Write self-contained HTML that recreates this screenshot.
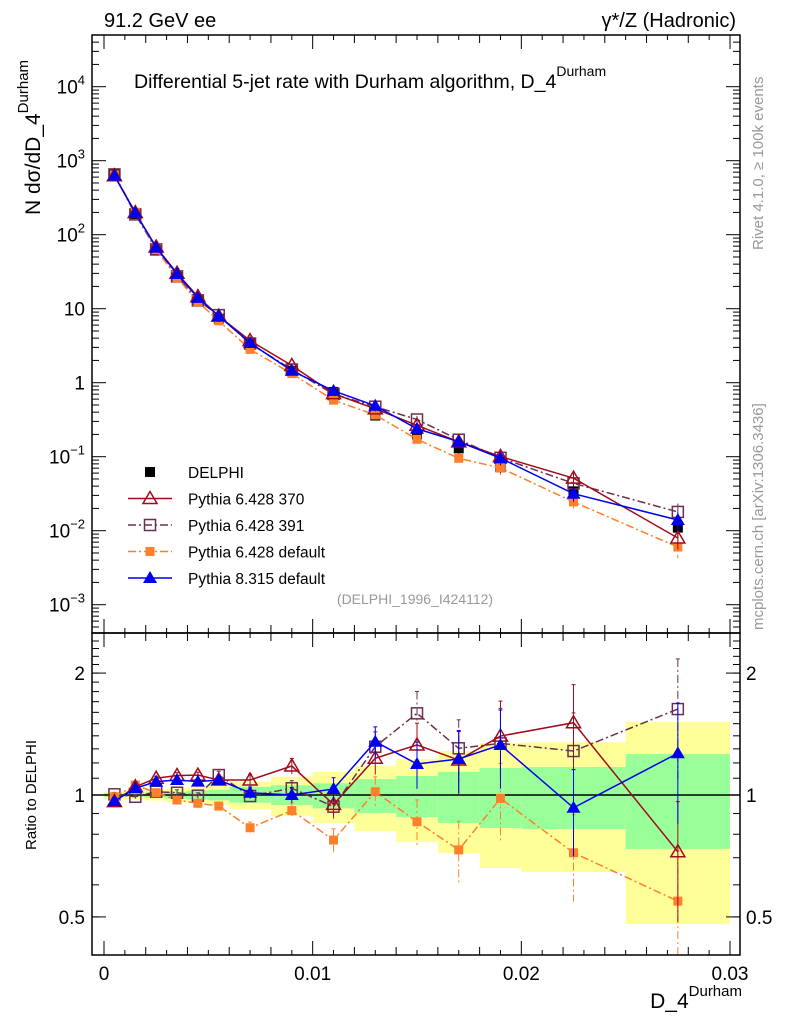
<!DOCTYPE html>
<html><head><meta charset="utf-8"><style>
body{margin:0;background:#fff}
svg{display:block;font-family:"Liberation Sans",sans-serif}
</style></head><body>
<svg id="c" width="786" height="1024" viewBox="0 0 786 1024">
<text x="104" y="27" font-size="20">91.2 GeV ee</text>
<text x="736" y="27" font-size="20" text-anchor="end">γ*/Z (Hadronic)</text>
<text x="134" y="88" font-size="19.5">Differential 5-jet rate with Durham algorithm, D_4<tspan dy="-12" font-size="14">Durham</tspan></text>
<text transform="translate(40,215) rotate(-90)" font-size="21">N  dσ/dD_4<tspan dy="-12" font-size="15">Durham</tspan></text>
<text transform="translate(763,250) rotate(-90)" font-size="15" fill="#999">Rivet 4.1.0, ≥ 100k events</text>
<text transform="translate(763,630) rotate(-90)" font-size="15" fill="#999">mcplots.cern.ch [arXiv:1306.3436]</text>
<text x="415" y="604" font-size="14" fill="#999" text-anchor="middle">(DELPHI_1996_I424112)</text>
<text transform="translate(36,795) rotate(-90)" font-size="15" text-anchor="middle">Ratio to DELPHI</text>
<text x="742" y="1008" font-size="21" text-anchor="end">D_4<tspan dy="-12" font-size="15">Durham</tspan></text>
<g id="g"></g>
</svg>
<script>
const centers=[0.0005,0.0015,0.0025,0.0035,0.0045,0.0055,0.007,0.009,0.011,0.013,0.015,0.017,0.019,0.0225,0.0275];
const edges=[0,0.001,0.002,0.003,0.004,0.005,0.006,0.008,0.010,0.012,0.014,0.016,0.018,0.020,0.025,0.030];
const delphi=[650,190,62,27,13,7.3,3.4,1.45,0.75,0.36,0.2,0.13,0.072,0.034,0.011];
const r370=[0.963,1.048,1.10,1.117,1.12,1.089,1.089,1.179,0.948,1.232,1.329,1.22,1.398,1.508,0.724];
const r391=[1.004,0.99,1.019,1.013,0.996,1.12,0.994,1.039,0.936,1.316,1.591,1.304,1.341,1.284,1.63];
const rdef=[0.99,1.058,1.013,0.972,0.954,0.939,0.83,0.915,0.774,1.019,0.859,0.732,0.981,0.72,0.547];
const rp8=[0.966,1.039,1.079,1.089,1.079,1.089,1.013,1.0,1.035,1.354,1.193,1.227,1.329,0.93,1.268];
const relErr=[0.01,0.01,0.01,0.015,0.015,0.02,0.03,0.04,0.06,0.08,0.12,0.16,0.2,0.22,0.3];
const greenHi=[1.01,1.01,1.015,1.02,1.025,1.03,1.048,1.057,1.069,1.095,1.114,1.14,1.166,1.172,1.262];
const greenLo=[0.99,0.99,0.985,0.98,0.975,0.97,0.957,0.945,0.927,0.903,0.882,0.853,0.829,0.824,0.736];
const yelHi=[1.019,1.019,1.029,1.039,1.048,1.058,1.079,1.11,1.14,1.179,1.227,1.284,1.344,1.35,1.515];
const yelLo=[0.976,0.976,0.968,0.961,0.954,0.945,0.922,0.887,0.853,0.815,0.765,0.719,0.66,0.645,0.48];
const xTicks=[0,0.01,0.02,0.03];
const xTickLabels=["0","0.01","0.02","0.03"];
const yDecades=[-3,-2,-1,0,1,2,3,4];
const yDecLabels=["10<tspan dy='-9' font-size='13'>−3</tspan>","10<tspan dy='-9' font-size='13'>−2</tspan>","10<tspan dy='-9' font-size='13'>−1</tspan>","1","10","10<tspan dy='-9' font-size='13'>2</tspan>","10<tspan dy='-9' font-size='13'>3</tspan>","10<tspan dy='-9' font-size='13'>4</tspan>"];
const rTicks=[0.5,1,2];
const rTickLabels=["0.5","1","2"];

const L=92,R=740,T=35,M=633,B=955;
const X=v=>104+v*20867;
const Y=v=>382.7-74*Math.log10(v);
const RY=v=>795-405*Math.log10(v);
const g=document.getElementById('g');
const NS='http://www.w3.org/2000/svg';
function el(t,a,p){const e=document.createElementNS(NS,t);for(const k in a)e.setAttribute(k,a[k]);(p||g).appendChild(e);return e;}

const defs=el('defs',{});
const cp1=el('clipPath',{id:'cm'},defs);el('rect',{x:L,y:T,width:R-L,height:M-T},cp1);
const cp2=el('clipPath',{id:'cr'},defs);el('rect',{x:L,y:M,width:R-L,height:B-M},cp2);
const gm=el('g',{'clip-path':'url(#cm)'});


const gr=el('g',{'clip-path':'url(#cr)'});



for(let i=0;i<centers.length;i++){
  const y1=el('rect',{x:X(edges[i]),width:X(edges[i+1])-X(edges[i]),y:RY(yelHi[i]),height:RY(yelLo[i])-RY(yelHi[i]),fill:'#ffff99'},gr);
  
  
  const g1=el('rect',{x:X(edges[i]),width:X(edges[i+1])-X(edges[i]),y:RY(greenHi[i]),height:RY(greenLo[i])-RY(greenHi[i]),fill:'#99ff99'},gr);
  
  
}
el('line',{x1:L,x2:R,y1:RY(1),y2:RY(1),stroke:'#000','stroke-width':1.5},gr);

function marker(p,type,x,y,col,name){
  let e;
  if(type==='sq') e=el('rect',{x:x-5,y:y-5,width:10,height:10,fill:col},p);
  else if(type==='osq') e=el('rect',{x:x-5.5,y:y-5.5,width:11,height:11,fill:'none',stroke:col,'stroke-width':1.5},p);
  else if(type==='fsq') e=el('rect',{x:x-4.5,y:y-4.5,width:9,height:9,fill:col},p);
  else if(type==='otri') e=el('path',{d:`M${x},${y-7}L${x+7},${y+5}L${x-7},${y+5}Z`,fill:'none',stroke:col,'stroke-width':1.5},p);
  else e=el('path',{d:`M${x},${y-7}L${x+7},${y+5}L${x-7},${y+5}Z`,fill:col},p);
  
  
}
const series=[
 {r:r391,col:'#6b3050',type:'osq',dash:'8,3,2,3',name:'pythia6-391'},
 {r:rdef,col:'#ff7f2a',type:'fsq',dash:'8,3,2,3',name:'pythia6-default'},
 {r:r370,col:'#a00c1c',type:'otri',dash:'',name:'pythia6-370'},
 {r:rp8,col:'#0000ee',type:'tri',dash:'',name:'pythia8-default'}
];
for(let i=0;i<centers.length;i++){
  el('line',{x1:X(centers[i]),x2:X(centers[i]),y1:Y(delphi[i]*(1+relErr[i])),y2:Y(delphi[i]*(1-relErr[i])),stroke:'#000'},gm);
  marker(gm,'sq',X(centers[i]),Y(delphi[i]),'#000','delphi-point');
}
for(const s of series){
  const ptsM=centers.map((c,i)=>X(c)+','+Y(delphi[i]*s.r[i])).join(' ');
  const ptsR=centers.map((c,i)=>X(c)+','+RY(s.r[i])).join(' ');
  const lm=el('polyline',{points:ptsM,fill:'none',stroke:s.col,'stroke-width':1.5,'stroke-dasharray':s.dash},gm);
  
  
  const lr=el('polyline',{points:ptsR,fill:'none',stroke:s.col,'stroke-width':1.5,'stroke-dasharray':s.dash},gr);
  
  
  for(let i=0;i<centers.length;i++){
    const v=delphi[i]*s.r[i],e=relErr[i];
    el('line',{x1:X(centers[i]),x2:X(centers[i]),y1:Y(v*(1+e)),y2:Y(v*(1-e)),stroke:s.col,'stroke-dasharray':s.dash},gm);
    marker(gm,s.type,X(centers[i]),Y(v),s.col,s.name+'-point');
    const ee=e*1.1;
    el('line',{x1:X(centers[i]),x2:X(centers[i]),y1:RY(s.r[i]*(1+ee)),y2:RY(Math.max(0.01,s.r[i]*(1-ee))),stroke:s.col,'stroke-dasharray':s.dash},gr);
    el('line',{x1:X(centers[i])-2,x2:X(centers[i])+2,y1:RY(s.r[i]*(1+ee)),y2:RY(s.r[i]*(1+ee)),stroke:s.col},gr);
    marker(gr,s.type,X(centers[i]),RY(s.r[i]),s.col,s.name+'-ratio-point');
  }
}
el('rect',{x:L,y:T,width:R-L,height:M-T,fill:'none',stroke:'#000','stroke-width':1.5});
el('rect',{x:L,y:M,width:R-L,height:B-M,fill:'none',stroke:'#000','stroke-width':1.5});
for(let k=0;k<yDecades.length;k++){
  const d=yDecades[k],y=Y(Math.pow(10,d));
  el('line',{x1:L,x2:L+14,y1:y,y2:y,stroke:'#000'});el('line',{x1:R-14,x2:R,y1:y,y2:y,stroke:'#000'});
  const t=el('text',{x:85,y:y+7,'font-size':19,'text-anchor':'end'});t.innerHTML=yDecLabels[k];
  
  
}
for(let d=-4;d<=4;d++)for(let m=2;m<=9;m++){const y=Y(m*Math.pow(10,d));if(y>T&&y<M){el('line',{x1:L,x2:L+7,y1:y,y2:y,stroke:'#000'});el('line',{x1:R-7,x2:R,y1:y,y2:y,stroke:'#000'});}}
for(let k=0;k<rTicks.length;k++){
  const y=RY(rTicks[k]);
  el('line',{x1:L,x2:L+14,y1:y,y2:y,stroke:'#000'});el('line',{x1:R-14,x2:R,y1:y,y2:y,stroke:'#000'});
  const t1=el('text',{x:85,y:y+7,'font-size':19,'text-anchor':'end'});t1.textContent=rTickLabels[k];
  
  
  const t2=el('text',{x:746,y:y+7,'font-size':19});t2.textContent=rTickLabels[k];
  
  
}
for(let v=0.4;v<2.5;v+=0.1){const y=RY(v);if(y>M&&y<B){el('line',{x1:L,x2:L+7,y1:y,y2:y,stroke:'#000'});el('line',{x1:R-7,x2:R,y1:y,y2:y,stroke:'#000'});}}
for(let k=0;k<xTicks.length;k++){
  const x=X(xTicks[k]);
  for(const [a,b] of [[T,T+14],[M-14,M],[M,M+14],[B-14,B]])el('line',{x1:x,x2:x,y1:a,y2:b,stroke:'#000'});
  const t=el('text',{x:x,y:980,'font-size':19,'text-anchor':'middle'});t.textContent=xTickLabels[k];
  
  
}
for(let i=1;i<30;i++){if(i%10===0)continue;const x=X(i*0.001),h=i%2?5:8;
  for(const [a,b] of [[T,T+h],[M-h,M],[M,M+h],[B-h,B]])el('line',{x1:x,x2:x,y1:a,y2:b,stroke:'#000'});}
const leg=[['sq','#000','DELPHI',''],['otri','#a00c1c','Pythia 6.428 370',''],['osq','#6b3050','Pythia 6.428 391','8,3,2,3'],['fsq','#ff7f2a','Pythia 6.428 default','8,3,2,3'],['tri','#0000ee','Pythia 8.315 default','']];
leg.forEach((l,i)=>{
  const y=472+i*26.5;
  const lg=el('g',{});
  
  
  if(i>0)el('line',{x1:128,x2:172,y1:y,y2:y,stroke:l[1],'stroke-width':1.5,'stroke-dasharray':l[3]},lg);
  marker(lg,l[0],150,y,l[1],'legend-marker');
  const t=el('text',{x:188,y:y+6,'font-size':15.5},lg);t.textContent=l[2];
});
</script>
</body></html>
